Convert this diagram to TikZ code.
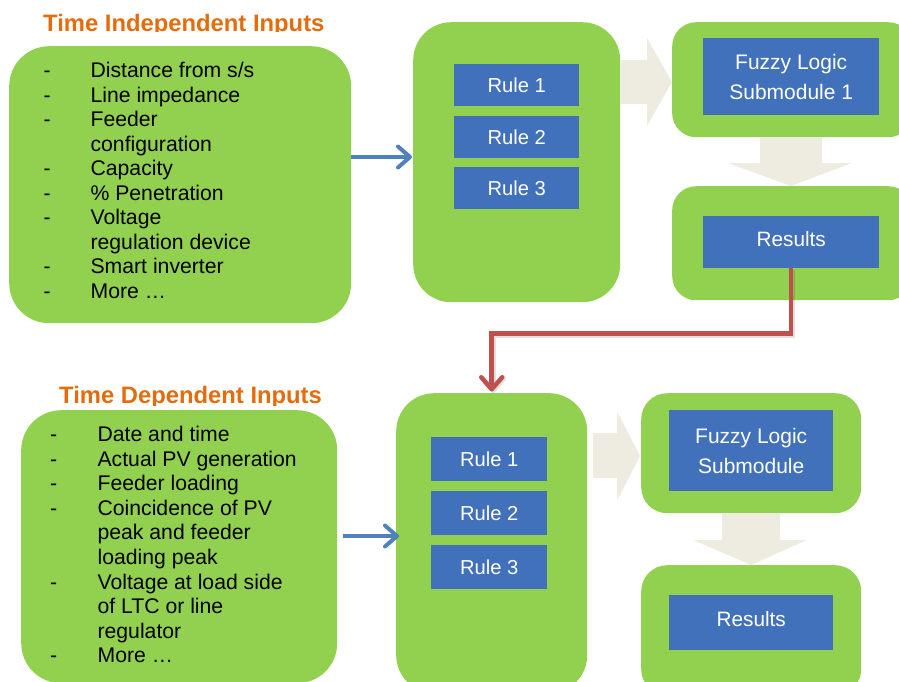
\documentclass[tikz,border=0pt]{standalone}
\usepackage{fontspec}
\setmainfont{Liberation Sans}
\usetikzlibrary{arrows.meta}
\definecolor{grn}{HTML}{92D050}
\definecolor{blu}{HTML}{4171BA}
\definecolor{ttl}{HTML}{E46C0A}
\definecolor{bei}{HTML}{EEECE1}
\definecolor{arrb}{HTML}{4F81BD}
\definecolor{arrr}{HTML}{C0504D}
\tikzset{
  gbox/.style={fill=grn, rounded corners=#1, inner sep=0pt, anchor=north west},
  bbox/.style={fill=blu, inner sep=0pt, anchor=north west, text=white},
  rulefont/.style={font=\fontsize{20.2}{24}\selectfont},
  resfont/.style={font=\fontsize{20.8}{24}\selectfont, text depth=7pt},
  fuzfont/.style={font=\fontsize{21}{30}\selectfont, align=center},
  ttltext/.style={text=ttl, font=\fontsize{23.8}{28}\selectfont\bfseries, anchor=base west, inner sep=0pt},
  itemtext/.style={font=\fontsize{21.2}{24.5}\selectfont, anchor=base west, inner sep=0pt},
  bigarrow/.style={fill=bei},
  bluarrow/.style={draw=arrb, line width=4pt, -{Straight Barb[length=12pt,width=21pt,round]}},
  redarrow/.style={draw=arrr, line width=4.5pt, -{Straight Barb[length=12pt,width=21pt,round]}},
  redshadow/.style={draw=black, opacity=0.12, line width=5pt, -{Straight Barb[length=12pt,width=21pt,round]}},
}
\begin{document}
\begin{tikzpicture}[x=1pt,y=-1pt]
\useasboundingbox (0,0) rectangle (899,681);

% ---------- top row ----------
\begin{scope}
  \clip (0,0) rectangle (899,31.5);
  \node[ttltext] (t1) at (43,31) {Time Independent Inputs};
\end{scope}

\node[gbox=40pt, minimum width=342pt, minimum height=277pt] (inA) at (9,46) {};
\foreach \i/\yy/\txt/\d in {1/77.5/{Distance from s/s}/1, 2/102/{Line impedance}/1, 3/126.5/{Feeder}/1,
  4/151/{configuration}/0, 5/175.5/{Capacity}/1, 6/200/{\% Penetration}/1, 7/224.5/{Voltage}/1,
  8/249/{regulation device}/0, 9/273.5/{Smart inverter}/1, 10/298/{More …}/1}{
  \node[itemtext] (ta\i) at (90.4,\yy) {\txt};
  \ifnum\d=1 \node[itemtext] (da\i) at (43.5,\yy) {-};\fi
}

\node[gbox=38pt, minimum width=207pt, minimum height=280pt] (ruleA) at (413,22) {};
\node[bbox, rulefont, minimum width=125pt, minimum height=42pt] (ra1) at (454,64) {Rule 1};
\node[bbox, rulefont, minimum width=125pt, minimum height=42pt] (ra2) at (454,116) {Rule 2};
\node[bbox, rulefont, minimum width=125pt, minimum height=42pt] (ra3) at (454,167) {Rule 3};

\node[gbox=24pt, minimum width=240pt, minimum height=115pt] (fuzA) at (672,22) {};
\node[bbox, fuzfont, minimum width=176pt, minimum height=77pt] (fuzAb) at (703,38) {Fuzzy Logic\\Submodule 1};

\node[gbox=24pt, minimum width=240pt, minimum height=114pt] (resA) at (672,186) {};
\node[bbox, resfont, minimum width=176pt, minimum height=52pt] (resAb) at (703,216) {Results};

\fill[bigarrow] (620,60) -- (647,60) -- (647,38) -- (672,82) -- (647,126) -- (647,104) -- (620,104) -- cycle;
\fill[bigarrow] (760,137) -- (822,137) -- (822,163) -- (852,163) -- (791,186) -- (728,163) -- (760,163) -- cycle;

\coordinate (yA) at (380,157);
\draw[bluarrow] (inA.east |- yA) -- ([xshift=-1pt]ruleA.west |- yA);

% ---------- connector between rows ----------
\node[gbox=38pt, minimum width=191pt, minimum height=300pt] (ruleB) at (396,393) {};
\draw[redshadow] ([shift={(1.5,2)}]resAb.south) -- ++(0,65) -| ([shift={(1.5,0)}]ruleB.north);
\draw[redarrow] (resAb.south) -- ++(0,65) -| ([yshift=1.5pt]ruleB.north);

% ---------- bottom row ----------
\begin{scope}
  \clip (0,380) rectangle (899,405.5);
  \node[ttltext] (t2) at (59,403.3) {Time Dependent Inputs};
\end{scope}

\node[gbox=40pt, minimum width=316pt, minimum height=273pt] (inB) at (21,410) {};
\foreach \i/\yy/\txt/\d in {1/441.7/{Date and time}/1, 2/466.25/{Actual PV generation}/1, 3/490.8/{Feeder loading}/1,
  4/515.35/{Coincidence of PV}/1, 5/539.9/{peak and feeder}/0, 6/564.45/{loading peak}/0, 7/589/{Voltage at load side}/1,
  8/613.55/{of LTC or line}/0, 9/638.1/{regulator}/0, 10/662.65/{More …}/1}{
  \node[itemtext] (tb\i) at (97.4,\yy) {\txt};
  \ifnum\d=1 \node[itemtext] (db\i) at (50,\yy) {-};\fi
}

\node[bbox, rulefont, minimum width=116pt, minimum height=44pt] (rb1) at (431,437) {Rule 1};
\node[bbox, rulefont, minimum width=116pt, minimum height=44pt] (rb2) at (431,491) {Rule 2};
\node[bbox, rulefont, minimum width=116pt, minimum height=44pt] (rb3) at (431,545) {Rule 3};

\node[gbox=26pt, minimum width=220pt, minimum height=120pt] (fuzB) at (641,393) {};
\node[bbox, fuzfont, minimum width=164pt, minimum height=81pt] (fuzBb) at (669,410) {Fuzzy Logic\\Submodule};

\node[gbox=26pt, minimum width=220pt, minimum height=130pt] (resB) at (641,565) {};
\node[bbox, resfont, minimum width=164pt, minimum height=55pt] (resBb) at (669,595) {Results};

\fill[bigarrow] (593,433) -- (617,433) -- (617,411) -- (640,456) -- (617,501) -- (617,478) -- (593,478) -- cycle;
\fill[bigarrow] (722,513) -- (780,513) -- (780,540) -- (807,540) -- (751,565) -- (693,540) -- (722,540) -- cycle;

\coordinate (aB0) at (343,536);
\coordinate (aB1) at (399,536);
\draw[bluarrow] (aB0) -- (aB1);
\end{tikzpicture}
\end{document}
